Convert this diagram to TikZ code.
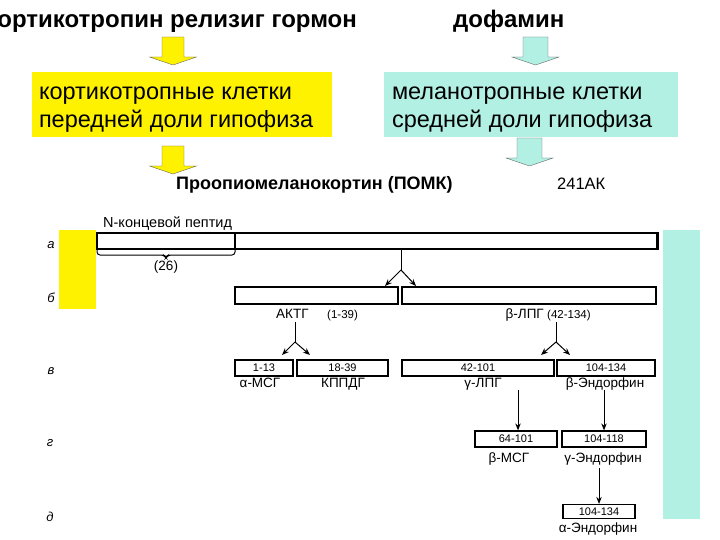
\documentclass[tikz,border=0pt]{standalone}
\usepackage{fontspec}
\setmainfont{Liberation Sans}
\usetikzlibrary{arrows.meta}
\definecolor{mint}{RGB}{178,240,228}

\begin{document}
\begin{tikzpicture}[x=1pt, y=-1pt,
    every node/.style={inner sep=0pt},
    bar/.style={draw, line width=1.2pt, rectangle, minimum height=16, font=\fontsize{11}{13}\selectfont},
    lbl/.style={font=\fontsize{13.5}{15}\selectfont},
    small/.style={font=\fontsize{11.5}{13}\selectfont},
    rowlbl/.style={font=\itshape\fontsize{13}{15}\selectfont},
    cellbox/.style={minimum width=#1, minimum height=65},
    celltext/.style={anchor=west, align=left, font=\fontsize{23.5}{28}\selectfont},
    arr/.style={-{Stealth[length=7pt, width=5.5pt]}, line width=1pt}]
    \useasboundingbox (0,0) rectangle (720,540);

    % Верхняя часть: регуляторы и клетки гипофиза
    \node[anchor=base east, font=\bfseries\fontsize{24}{28}\selectfont] (crh) at (357,28) {кортикотропин релизиг гормон};
    \node[anchor=base west, font=\bfseries\fontsize{24}{28}\selectfont] (dopa) at (453,28) {дофамин};
    \node[cellbox=300, fill=yellow] (kort) at (182,104.5) {};
    \node[celltext] (kortt) at ([xshift=7pt, yshift=-5pt]kort.west) {кортикотропные клетки\\передней доли гипофиза};
    \node[cellbox=294, fill=mint] (mel) at (531,104.5) {};
    \node[celltext] (melt) at ([xshift=8pt, yshift=-5pt]mel.west) {меланотропные клетки\\средней доли гипофиза};

    % Блочные стрелки
    \foreach \cx/\ty/\sw/\col in {173/37/11/yellow, 173/146/11/yellow, 535.5/37/12.5/mint, 529.5/138/12.5/mint}
        \draw[draw=black!60, fill=\col] (\cx-\sw,\ty) -- (\cx+\sw,\ty) -- (\cx+\sw,\ty+20) -- (\cx+23.5,\ty+20)
            -- (\cx,\ty+28) -- (\cx-23.5,\ty+20) -- (\cx-\sw,\ty+20) -- cycle;

    \node[anchor=base west, font=\bfseries\fontsize{18}{20}\selectfont] (pomk) at (176,190) {Проопиомеланокортин (ПОМК)};
    \node[anchor=base west, font=\fontsize{16.5}{18}\selectfont] (ak) at (557,190) {241АК};

    % Цветные полосы по краям
    \fill[yellow] (59,230) rectangle (96,309);
    \fill[mint] (663,230) rectangle (700,519);

    % Обозначения рядов
    \node[rowlbl] (ra) at (51,245) {а};
    \node[rowlbl] (rb) at (51,298) {б};
    \node[rowlbl] (rv) at (51,371) {в};
    \node[rowlbl] (rg) at (50,443) {г};
    \node[rowlbl] (rd) at (50,517) {д};

    % Ряд а: ПОМК целиком
    \node[bar, minimum width=561] (pomc) at (377.5,241) {};
    \draw[line width=1.2pt] (235,233) -- (235,249);
    \draw[line width=2.2pt] (657,233) -- (657,249);
    \node[anchor=base west, font=\fontsize{14.5}{16}\selectfont] (npep) at (103,227) {N-концевой пептид};
    \draw[line width=1pt, rounded corners=3pt] (97,249) -- (97,255) -- (164,255) -- (166,258) -- (168,255) -- (235,255) -- (235,249);
    \node[lbl] (n26) at (166,267) {(26)};

    % Ряд б
    \node[bar, minimum width=163, minimum height=17] (actg) at (316.5,295.5) {};
    \node[bar, minimum width=254, minimum height=17] (blph) at (529,295.5) {};
    \coordinate (sa) at (401,270);
    \draw[line width=1pt] (pomc.south -| sa) -- (sa);
    \draw[arr] (sa) -- (385,286);
    \draw[arr] (sa) -- (416,286);
    \node[lbl, anchor=base west] (actgl) at (276,318) {АКТГ};
    \node[small, anchor=base west] (actgn) at (327,318) {(1-39)};
    \node[lbl, anchor=base east] (blphl) at (544,318) {β-ЛПГ};
    \node[small, anchor=base west] (blphn) at (547,318) {(42-134)};

    % Ряд в
    \node[bar, minimum width=58] (b113) at (264,368) {1-13};
    \node[bar, minimum width=91] (b1839) at (342.5,368) {18-39};
    \node[bar, minimum width=152] (b42101) at (478,368) {42-101};
    \node[bar, minimum width=98] (b104134) at (606,368) {104-134};
    \coordinate (sb) at (295,342);
    \draw[line width=1pt] (295,322) -- (sb);
    \draw[arr] (sb) -- (282,355);
    \draw[arr] (sb) -- (310,355);
    \coordinate (sc) at (556,342);
    \draw[line width=1pt] (556,322) -- (sc);
    \draw[arr] (sc) -- (541,355);
    \draw[arr] (sc) -- (570,355);
    \node[lbl, anchor=base] (amsh) at (260,387) {α-МСГ};
    \node[lbl, anchor=base] (kppdg) at (343,387) {КППДГ};
    \node[lbl, anchor=base] (glph) at (483,387) {γ-ЛПГ};
    \node[lbl, anchor=base] (bend) at (605,387) {β-Эндорфин};

    % Ряд г
    \node[bar, minimum width=82] (b64101) at (516,439) {64-101};
    \node[bar, minimum width=84] (b104118) at (604,439) {104-118};
    \draw[arr] (518,390) -- (b64101.north -| 518,0);
    \draw[arr] (604,390) -- (b104118.north);
    \node[lbl, anchor=base] (bmsh) at (509,462) {β-МСГ};
    \node[lbl, anchor=base] (gend) at (603,462) {γ-Эндорфин};

    % Ряд д
    \node[bar, minimum width=72, minimum height=14] (b104134d) at (599,511.5) {104-134};
    \draw[arr] (599,468) -- (b104134d.north);
    \node[lbl, anchor=base] (aend) at (598,532) {α-Эндорфин};
\end{tikzpicture}
\end{document}
